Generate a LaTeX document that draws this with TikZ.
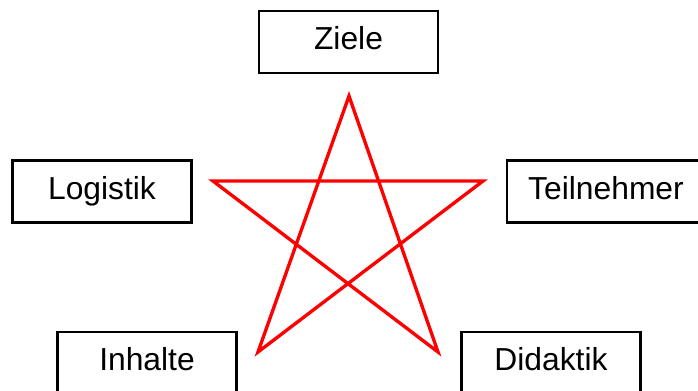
\documentclass[tikz,border=0pt]{standalone}
\usepackage{fontspec}
\setmainfont{Liberation Sans}
\usepackage{tikz}
\tikzset{box/.style = {draw, line width=1.4pt, minimum width=3.58cm, minimum height=1.24cm,
    inner sep=0pt, text height=1em, text depth=.12em,
    font=\fontsize{18.1}{20}\selectfont}}

\begin{document}
\begin{tikzpicture}[x=.02cm, y=-.02cm]
        \useasboundingbox (0,0) rectangle (698,390);
        \clip (0,0) rectangle (698,390);
        % the five boxes
        \node (ziele) [box] at (348.5,42) {Ziele};
        \node (logistik) [box] at (102,191.5) {Logistik};
        \node (teilnehmer) [box, minimum width=3.96cm] at (606,191.5) {Teilnehmer};
        \node (inhalte) [box] at (147,363) {Inhalte};
        \node (didaktik) [box] at (551,363) {Didaktik};
        % the star
        \coordinate (top) at (349,96);
        \coordinate (left) at (213,181);
        \coordinate (right) at (483,181);
        \coordinate (botleft) at (258,352);
        \coordinate (botright) at (438,352);
        \draw [red, line width=1.9pt]
          (top) -- (botleft) -- (right) -- (left) -- (botright) -- cycle;
      \end{tikzpicture}
\end{document}
